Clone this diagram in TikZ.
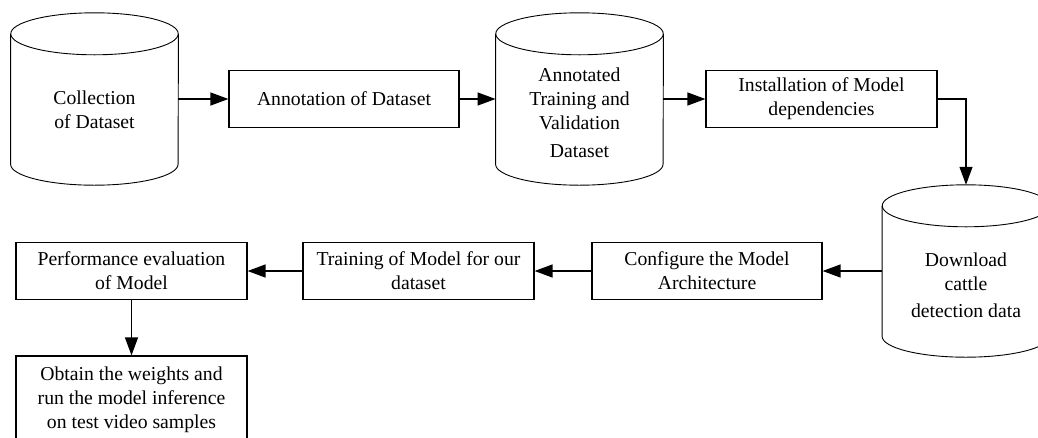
\documentclass[tikz,border=0pt]{standalone}
\usepackage{fontspec}
\setmainfont{Liberation Serif}
\newfontfamily\timesfont{Liberation Serif}
\usetikzlibrary{arrows.meta}
\newcommand\drawcylinder[1]{%
  \draw[cylline] ([yshift=-21pt]#1.north west) -- ([yshift=21pt]#1.south west)
    arc[start angle=180,end angle=360,x radius=83.75pt,y radius=21pt]
    -- ([yshift=-21pt]#1.north east);
  \draw[cylline] ([yshift=-21pt]#1.north) ellipse[x radius=83.75pt,y radius=21pt];
}
\begin{document}
\begin{tikzpicture}[x=1pt,y=1pt,
  lbl/.style={align=center,inner sep=0pt,font=\timesfont\fontsize{19.7}{24}\selectfont},
  box/.style={lbl,draw,line width=1.2pt,minimum width=231pt,minimum height=57pt},
  cylnode/.style={inner sep=0pt,minimum width=167.5pt,minimum height=172pt},
  cylline/.style={line width=0.9pt},
  arr/.style={-{Triangle[length=18pt,width=13pt]},line width=1.3pt}]
\useasboundingbox (0,0) rectangle (1038,-437);
\clip (0,0) rectangle (1038,-437);

% cylinders (named nodes, outline drawn from anchors)
\node[cylnode] (cyl1) at (94.5,-99) {};
\node[cylnode] (cyl2) at (579.5,-99) {};
\node[cylnode] (cyl3) at (966,-271) {};
\drawcylinder{cyl1}
\drawcylinder{cyl2}
\drawcylinder{cyl3}
\node[lbl] (cyl1t) at ([yshift=-10.5pt]cyl1.center) {Collection\\of Dataset};
\node[lbl] (cyl2t) at ([yshift=-14pt]cyl2.center) {Annotated\\Training and\\Validation\\[4pt]Dataset};
\node[lbl] (cyl3t) at ([yshift=-14pt]cyl3.center) {Download\\cattle\\[3pt]detection data};

% boxes
\node[box,minimum width=230pt] (ann) at (344,-99) {Annotation of Dataset};
\node[box] (inst) at (821.5,-99) {Installation of Model\\dependencies};
\node[box,minimum width=230pt] (conf) at (707,-271) {Configure the Model\\Architecture};
\node[box] (train) at (418.5,-271) {Training of Model for our\\dataset};
\node[box] (perf) at (131.5,-271) {Performance evaluation\\of Model};
\node[box,minimum height=88pt] (obt) at (131.5,-400) {Obtain the weights and\\run the model inference\\on test video samples};

% connectors
\draw[arr] (cyl1.east) -- (ann.west);
\draw[arr] (ann.east) -- (cyl2.west);
\draw[arr] (cyl2.east) -- (inst.west);
\draw[arr] (inst.east) -| (cyl3.north);
\draw[arr] (cyl3.west) -- (conf.east);
\draw[arr] (conf.west) -- (train.east);
\draw[arr] (train.west) -- (perf.east);
\draw[arr] (perf.south) -- (obt.north);
\end{tikzpicture}
\end{document}
